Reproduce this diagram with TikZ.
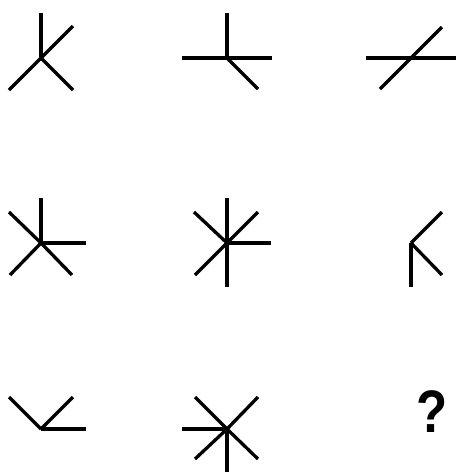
\documentclass[tikz,border=0pt]{standalone}
\usepackage{fontspec}
\setmainfont{Liberation Sans}
\usetikzlibrary{calc}

\tikzset{
  stroke/.style={line width=3.3pt, black},
  qmark/.style={font=\fontsize{60}{60}\selectfont\bfseries, inner sep=0pt, xscale=0.85}
}

\begin{document}
\begin{tikzpicture}[x=1pt, y=-1pt]
\useasboundingbox (0,0) rectangle (456,472);

% Centres of the nine cells
\coordinate (c1) at (41,58);
\coordinate (c2) at (227,58);
\coordinate (c3) at (411,58);
\coordinate (c4) at (41,243);
\coordinate (c5) at (227,243);
\coordinate (c6) at (411,243);
\coordinate (c7) at (41,429);
\coordinate (c8) at (227,429);

% Row 1
\draw[stroke] (c1) -- ++(0,-45);
\draw[stroke] (c1) -- ++(32,-32);
\draw[stroke] (c1) -- ++(-32,32);
\draw[stroke] (c1) -- ++(32,32);

\draw[stroke] (c2) -- ++(0,-45);
\draw[stroke] (c2) -- ++(-45,0);
\draw[stroke] (c2) -- ++(45,0);
\draw[stroke] (c2) -- ++(31,31);

\draw[stroke] (c3) -- ++(-45,0);
\draw[stroke] (c3) -- ++(45,0);
\draw[stroke] (c3) -- ++(31,-31);
\draw[stroke] (c3) -- ++(-31,31);

% Row 2
\draw[stroke] (c4) -- ++(0,-45);
\draw[stroke] (c4) -- ++(45,0);
\draw[stroke] (c4) -- ++(-32,-31);
\draw[stroke] (c4) -- ++(-31,32);
\draw[stroke] (c4) -- ++(31,32);

\draw[stroke] (c5) -- ++(0,-45);
\draw[stroke] (c5) -- ++(0,44);
\draw[stroke] (c5) -- ++(44,0);
\draw[stroke] (c5) -- ++(-33,-31);
\draw[stroke] (c5) -- ++(31,-31);
\draw[stroke] (c5) -- ++(-32,32);

\draw[stroke] (c6) -- ++(0,44);
\draw[stroke] (c6) -- ++(31,-31);
\draw[stroke] (c6) -- ++(31,32);

% Row 3
\draw[stroke] (c7) -- ++(-32,-32);
\draw[stroke] (c7) -- ++(32,-32);
\draw[stroke] (c7) -- ++(45,0);

\draw[stroke] (c8) -- ++(-45,0);
\draw[stroke] (c8) -- ++(0,43);
\draw[stroke] (c8) -- ++(-32,-32);
\draw[stroke] (c8) -- ++(31,-32);
\draw[stroke] (c8) -- ++(-32,30);
\draw[stroke] (c8) -- ++(31,30);

\node[qmark] (q) at (432,412) {?};
\end{tikzpicture}
\end{document}
